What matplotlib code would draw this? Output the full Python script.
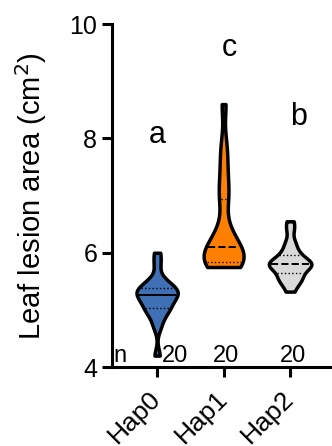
import numpy as np
import matplotlib.pyplot as plt
from matplotlib.transforms import ScaledTranslation

plt.rcParams['font.family'] = ['Liberation Sans', 'DejaVu Sans']

# groups and lesion areas (cm2), 20 leaves each
groups = ['Hap0', 'Hap1', 'Hap2']
hap0 = [4.2, 4.7, 4.85, 4.95, 5.0, 5.05, 5.1, 5.15, 5.2, 5.24,
        5.28, 5.3, 5.32, 5.35, 5.38, 5.42, 5.48, 5.55, 5.8, 6.0]
hap1 = [5.75, 5.78, 5.8, 5.82, 5.83, 5.84, 5.9, 5.98, 6.03, 6.08,
        6.12, 6.2, 6.3, 6.45, 6.9, 7.05, 7.3, 7.6, 7.9, 8.6]
hap2 = [5.32, 5.45, 5.5, 5.55, 5.6, 5.65, 5.7, 5.75, 5.78, 5.8,
        5.8, 5.82, 5.85, 5.9, 5.95, 6.0, 6.1, 6.2, 6.4, 6.55]
letters = ['a', 'c', 'b']
n_counts = [20, 20, 20]

colors = ['#3f6fb5', '#ff8000', '#d9d9d9']
med_styles = ['-', '--', '--']
data = [hap0, hap1, hap2]
pos = np.arange(len(groups))

fig = plt.figure(figsize=(3.32, 4.46), dpi=100)
ax = fig.add_axes([0.337, 0.177, 0.663, 0.769])

vp = ax.violinplot(data, positions=pos, widths=[0.62, 0.6, 0.64],
                   showextrema=False, bw_method=0.3)
for i, body in enumerate(vp['bodies']):
    body.set_facecolor(colors[i])
    body.set_edgecolor('black')
    body.set_linewidth(2.5)
    body.set_alpha(1)
    verts = body.get_paths()[0].vertices
    right = verts[verts[:, 0] >= pos[i]]
    order = np.argsort(right[:, 1])
    ys, xs = right[order, 1], right[order, 0] - pos[i]
    q1, med, q3 = np.percentile(data[i], [25, 50, 75])
    for q, ls, lw in [(q1, ':', 1.0), (med, med_styles[i], 1.4), (q3, ':', 1.0)]:
        hw = np.interp(q, ys, xs) - 0.03
        ax.plot([pos[i] - hw, pos[i] + hw], [q, q], color='black', ls=ls, lw=lw)

# significance letters
letter_x = [0, 1.08, 2.12]
letter_y = [8.06, 9.59, 8.37]
for x, y, t in zip(letter_x, letter_y, letters):
    ax.text(x, y, t, ha='center', va='center', fontsize=22)

# sample sizes
ax.text(-0.56, 4.0, 'n', ha='center', va='bottom', fontsize=17)
n_x = [0.27, 1.04, 2.04]
for x, n in zip(n_x, n_counts):
    ax.text(x, 4.0, str(n), ha='center', va='bottom', fontsize=17)

ax.set_xlim(-0.68, 2.63)
ax.set_ylim(4, 10)
ax.set_yticks([4, 6, 8, 10])
ax.set_xticks(pos)
ax.set_xticklabels(groups, rotation=45, ha='right', va='center',
                   rotation_mode='anchor', fontsize=19)
shift = ScaledTranslation(0.06, 0, fig.dpi_scale_trans)
for lab in ax.get_xticklabels():
    lab.set_transform(lab.get_transform() + shift)
ax.tick_params(axis='y', labelsize=18, width=2.2, length=7)
ax.tick_params(axis='x', width=2.2, length=7, pad=13)
ax.set_ylabel('Leaf lesion area (cm$^2$)', fontsize=21, labelpad=15)
for s in ['top', 'right']:
    ax.spines[s].set_visible(False)
for s in ['left', 'bottom']:
    ax.spines[s].set_linewidth(2.2)
ax.spines['left'].set_zorder(5)

fig.savefig('out.png', dpi=100)
